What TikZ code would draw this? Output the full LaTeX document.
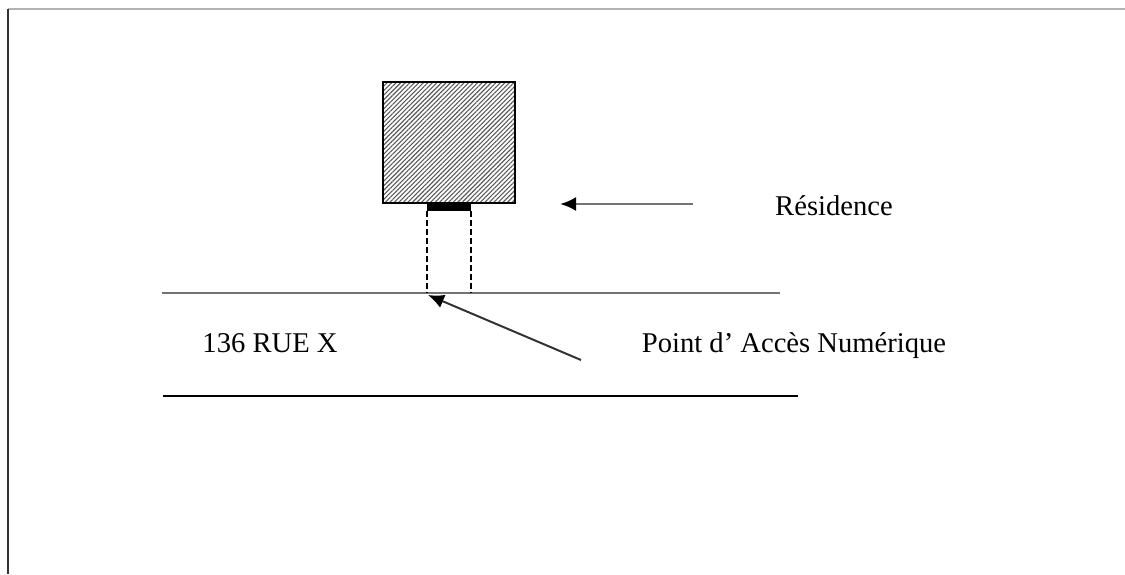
\documentclass[tikz,border=0pt]{standalone}
\usepackage{fontspec}
\setmainfont{Liberation Serif}
\usetikzlibrary{patterns.meta, arrows.meta}

\begin{document}
\begin{tikzpicture}[x=0.5pt, y=-0.5pt,
    txt/.style={font=\fontsize{14.3}{17}\selectfont, inner sep=0pt},
    pointer/.style={draw=black!55, line width=1.3pt, -{Latex[black, length=8pt, width=7pt]}}]
    \useasboundingbox (0,0) rectangle (1125,574);

    % Page frame
    \draw[black!30, line width=1.2pt] (8,9) -- (1125,9);
    \draw[black!80, line width=1.4pt] (8,9) -- (8,574);

    % The house and its access point
    \node[draw, line width=1.2pt, minimum width=66pt, minimum height=60.5pt, inner sep=0pt,
          pattern={Lines[angle=45, distance=1.6pt, line width=0.55pt]}, pattern color=black!65]
          (home) at (449,142.5) {};
    \node[fill=black, minimum width=22pt, minimum height=4.5pt, inner sep=0pt,
          anchor=north] (access) at (449,201.5) {};

    % Street edges
    \coordinate (road-w) at (162,293);
    \coordinate (road-e) at (780,293);
    \coordinate (kerb-w) at (163,396);
    \coordinate (kerb-e) at (798,396);
    \draw[black!55, line width=1.3pt] (road-w) -- (road-e);
    \draw[line width=1.2pt] (kerb-w) -- (kerb-e);

    % Connection down to the street
    \draw[line width=1pt, dash pattern=on 3pt off 1.5pt] (access.south west) -- (access.south west |- road-w);
    \draw[line width=1pt, dash pattern=on 3pt off 1.5pt] (access.south east) -- (access.south east |- road-w);

    % Labels
    \node[txt] (res) at (834,206) {Résidence};
    \node[txt] (street) at (270,343) {136 RUE X};
    \node[txt] (pan) at (794,346) {Point d' Accès Numérique};

    % Pointers
    \coordinate (res-tail) at (693,204);
    \coordinate (res-tip) at (560,204);
    \coordinate (pan-tail) at (581,360);
    \coordinate (pan-tip) at (428,295);
    \draw[pointer] (res-tail) -- (res-tip);
    \draw[pointer, draw=black!80, line width=1pt] (pan-tail) -- (pan-tip);
\end{tikzpicture}
\end{document}
